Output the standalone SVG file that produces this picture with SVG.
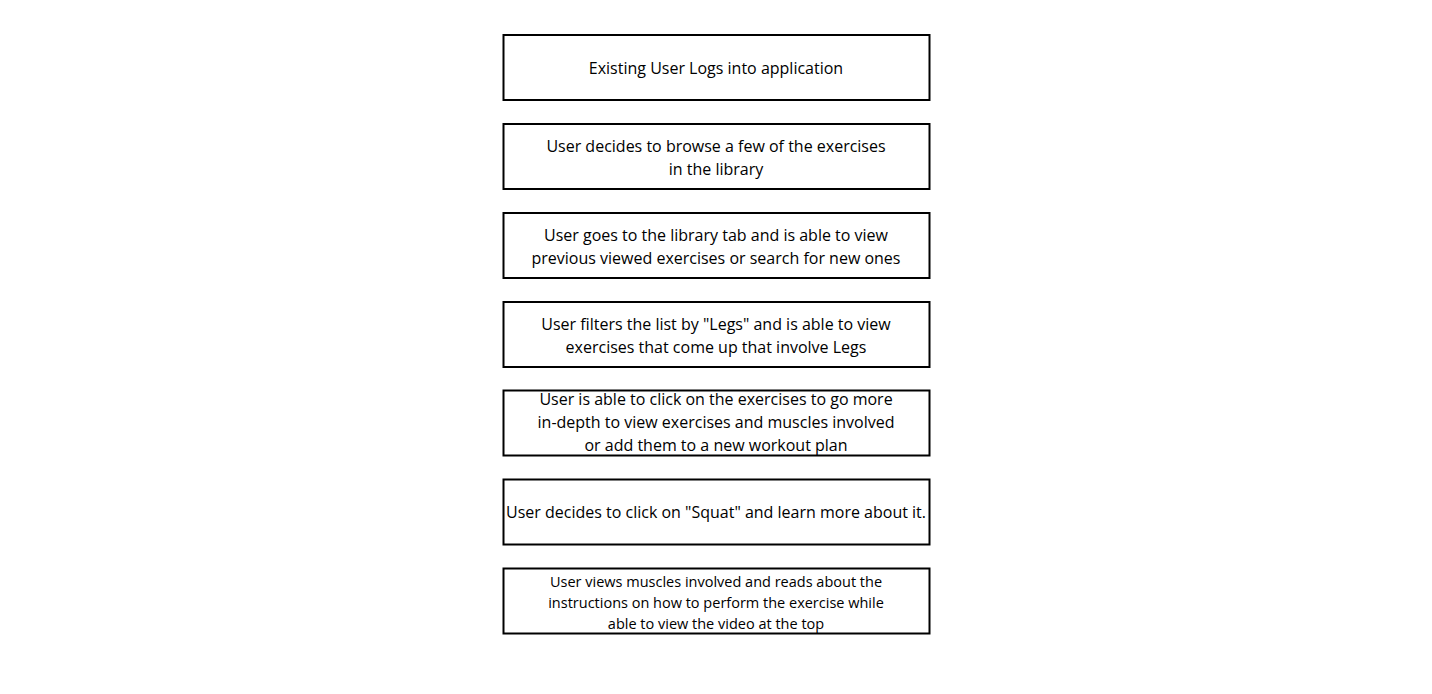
<svg xmlns="http://www.w3.org/2000/svg" width="1432" height="694" viewBox="0 0 1432 694">
<style>
.box{fill:#ffffff;stroke:#000000;stroke-width:2}
.t{font-family:"Open Sans","Noto Sans","Liberation Sans",sans-serif;font-size:16px;fill:#000000;text-anchor:middle}
.s{font-size:14.5px}
</style>
<rect width="1432" height="694" fill="#ffffff"/>
<g id="connectors"></g>
<g id="n1"><rect class="box" x="503.5" y="35" width="426" height="65"/><text class="t" x="716" y="74">Existing User Logs into application</text></g>
<g id="n2"><rect class="box" x="503.5" y="124" width="426" height="65"/><text class="t" x="716" y="152">User decides to browse a few of the exercises</text><text class="t" x="716" y="175">in the library</text></g>
<g id="n3"><rect class="box" x="503.5" y="213" width="426" height="65"/><text class="t" x="716" y="241">User goes to the library tab and is able to view</text><text class="t" x="716" y="264">previous viewed exercises or search for new ones</text></g>
<g id="n4"><rect class="box" x="503.5" y="302" width="426" height="65"/><text class="t" x="716" y="330">User filters the list by "Legs" and is able to view</text><text class="t" x="716" y="353">exercises that come up that involve Legs</text></g>
<g id="n5"><rect class="box" x="503.5" y="390.5" width="426" height="65"/><text class="t" x="716" y="405">User is able to click on the exercises to go more</text><text class="t" x="716" y="428">in-depth to view exercises and muscles involved</text><text class="t" x="716" y="451">or add them to a new workout plan</text></g>
<g id="n6"><rect class="box" x="503.5" y="479.5" width="426" height="65"/><text class="t" x="716" y="518">User decides to click on "Squat" and learn more about it.</text></g>
<g id="n7"><rect class="box" x="503.5" y="568.5" width="426" height="65"/><text class="t s" x="716" y="587">User views muscles involved and reads about the</text><text class="t s" x="716" y="608">instructions on how to perform the exercise while</text><text class="t s" x="716" y="629">able to view the video at the top</text></g>
</svg>
